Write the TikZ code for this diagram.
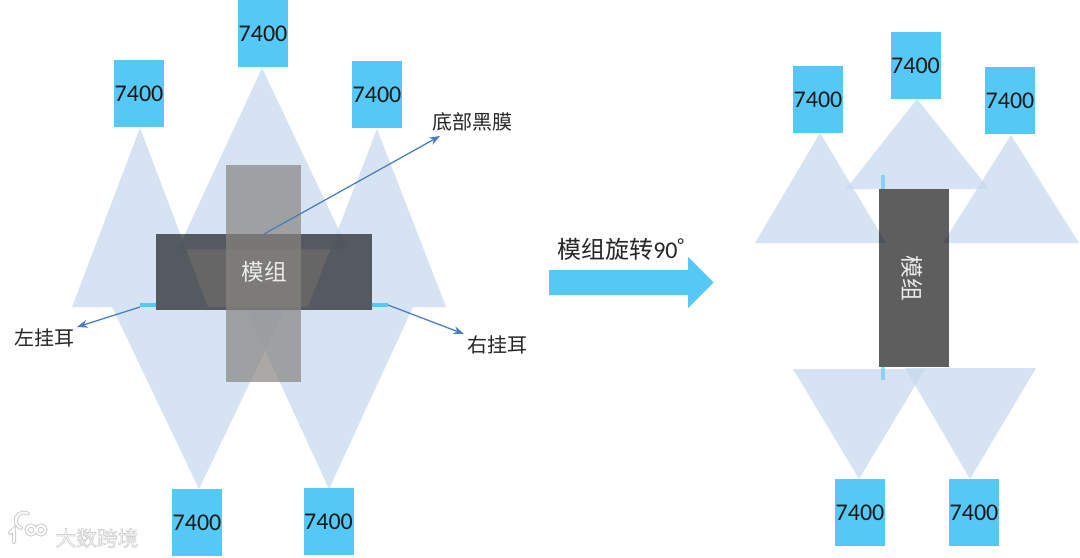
\documentclass[tikz,border=0pt]{standalone}
\usepackage{fontspec}
\setmainfont{Carlito}
\newfontfamily\cjk{Noto Sans CJK SC}
\usetikzlibrary{arrows.meta}
\definecolor{conealpha}{HTML}{C5D8EF}
\definecolor{chip}{HTML}{56C8F5}
\definecolor{leader}{HTML}{4A7EBB}
\definecolor{bargray}{HTML}{88847F}
\newcommand{\halotext}[1]{\special{pdf:code q 2 Tr 0.5 w 0.82 G}#1\special{pdf:code 0 Tr Q}}
\tikzset{
  x=0.75pt,y=-0.75pt,
  chipbox/.style={fill=chip,minimum width=37.5pt,minimum height=50.25pt,inner sep=0pt,font=\fontsize{18}{18}\selectfont,text=black!90},
  coneb/.style={fill=conealpha,fill opacity=0.7},
  earline/.style={fill=chip},
  leaderline/.style={draw=leader,line width=0.95pt,-{Stealth[length=8pt,width=6pt]}},
  cjklabel/.style={font=\cjk\fontsize{15}{15}\selectfont,text=black!85,inner sep=0pt},
  modlabel/.style={font=\cjk\fontsize{17}{17}\selectfont,text=white!92!black,inner sep=0pt},
  wmhalo/.style={draw=black!20,line width=3pt,line cap=round},
  wmline/.style={draw=white,line width=1.5pt,line cap=round},
  wmtext/.style={font=\cjk\fontsize{15.5}{16}\selectfont,inner sep=0pt}
}
\begin{document}
\begin{tikzpicture}
\useasboundingbox (0,0) rectangle (1080,557);
\fill[white] (0,0) rectangle (1080,557);

% left cones
\fill[coneb] (140,128) -- (72,307) -- (208,307) -- cycle;
\fill[coneb] (262,68) -- (178,249) -- (348,249) -- cycle;
\fill[coneb] (377,129) -- (308,307) -- (446,307) -- cycle;
\fill[coneb] (199,489) -- (112,307) -- (286,307) -- cycle;
\fill[coneb] (329,489) -- (245,307) -- (413,307) -- cycle;

% left ears
\fill[earline] (140,303) rectangle (156,307);
\fill[earline] (372,303) rectangle (388,307);

% left module
\fill[black,fill opacity=0.6] (156,234) rectangle (372,310);
\fill[bargray,fill opacity=0.7] (226,165) rectangle (301,382);
\node[modlabel] (modA) at (264.5,272) {模组};

% left chips
\node[chipbox] (a1) at (139,93.5) {7400};
\node[chipbox] (a2) at (263,33.5) {7400};
\node[chipbox] (a3) at (377,94.5) {7400};
\node[chipbox] (a4) at (197,522.5) {7400};
\node[chipbox] (a5) at (328.5,521.5) {7400};

% labels and leaders
\node[cjklabel] (film) at (472.5,122) {底部黑膜};
\node[cjklabel] (earL) at (44,338) {左挂耳};
\node[cjklabel] (earR) at (497,345) {右挂耳};
\coordinate (filmS) at (264,234);
\coordinate (filmE) at (440,136);
\coordinate (earLS) at (140,307);
\coordinate (earLE) at (77,327);
\coordinate (earRS) at (388,305);
\coordinate (earRE) at (464,334);
\draw[leaderline] (filmS) -- (filmE);
\draw[leaderline] (earLS) -- (earLE);
\draw[leaderline] (earRS) -- (earRE);

% big arrow
\fill[chip] (549,270) -- (688,270) -- (688,257) -- (713.5,282.5) -- (688,308) -- (688,295) -- (549,295) -- cycle;
\node[inner sep=0pt,anchor=west,text=black!85] (rot) at (557,249)
  {{\cjk\fontsize{18}{18}\selectfont 模组旋转}{\fontsize{18}{18}\selectfont 90\raisebox{0.55ex}{\fontsize{14}{14}\selectfont °}}};

% right cones
\fill[coneb] (820,133) -- (755,243) -- (886,243) -- cycle;
\fill[coneb] (917,99) -- (846,189) -- (989,189) -- cycle;
\fill[coneb] (1011,135) -- (943,243) -- (1079,243) -- cycle;
\fill[coneb] (859,479) -- (793,369) -- (925,369) -- cycle;
\fill[coneb] (970,479) -- (905,368) -- (1036,368) -- cycle;

% right ear
\fill[chip,fill opacity=0.6] (881,175) rectangle (885,189);
\fill[chip,fill opacity=0.6] (881,367) rectangle (885,380);

% right module
\fill[black,fill opacity=0.63] (879,189) rectangle (949,367);
\node[modlabel,rotate=-90] (modB) at (912,278) {模组};

% right chips
\node[chipbox] (b1) at (818,99.5) {7400};
\node[chipbox] (b2) at (915.5,65.5) {7400};
\node[chipbox] (b3) at (1010,100.5) {7400};
\node[chipbox] (b4) at (860,512.5) {7400};
\node[chipbox] (b5) at (974,512.5) {7400};

% watermark
\foreach \sty in {wmhalo,wmline}{
  \draw[\sty] (10,533) -- (14,529) -- (14,542);
  \draw[\sty] (21,528) arc[start angle=110,end angle=300,radius=8];
  \draw[\sty] (31,530) circle[radius=4.5];
  \draw[\sty] (41,530) circle[radius=4.5];
}
\node[wmtext,text=white] (wm) at (97,538) {\halotext{大数跨境}};
\end{tikzpicture}
\end{document}
